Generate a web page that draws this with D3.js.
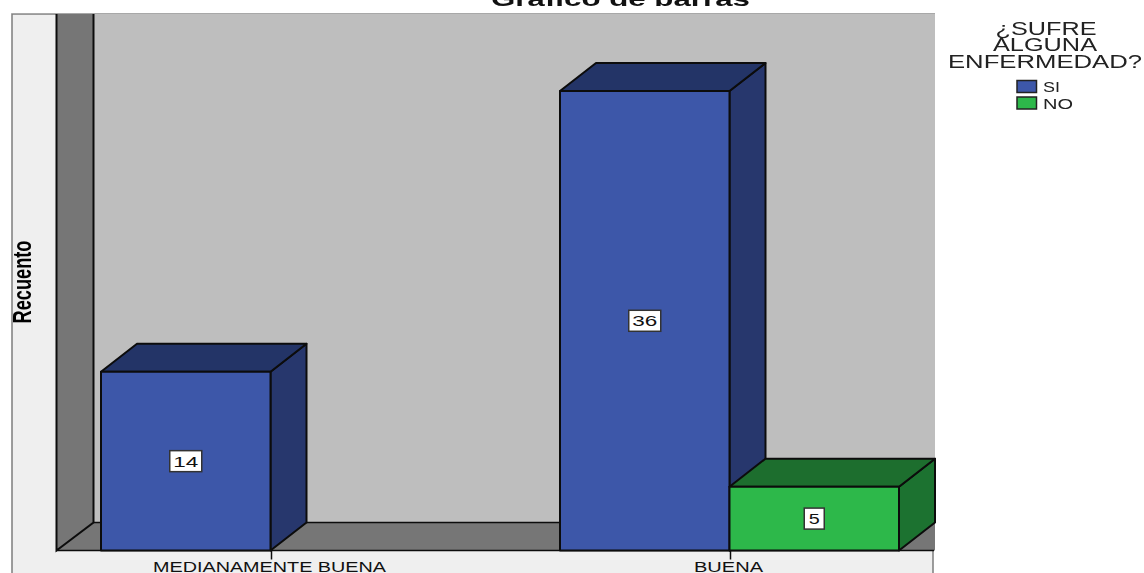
<!DOCTYPE html>
<html><head><meta charset="utf-8">
<script src="https://cdn.jsdelivr.net/npm/d3@7"></script>
<style>html,body{margin:0;padding:0;background:#fff}svg{display:block;filter:blur(.55px)}text{font-family:"Liberation Sans",Arial,sans-serif}</style>
</head><body><svg id="c" width="1144" height="573"></svg>
<script>
const categories=["MEDIANAMENTE BUENA","BUENA"];
const seriesNames=["SI","NO"];
const valuesSI=[14,36];
const valuesNO=[null,5];
const yLabel="Recuento";
const chartTitle="Gráfico de barras";
const legendTitle=["¿SUFRE","ALGUNA","ENFERMEDAD?"];
const faceColors={SI:"#3d57a9",NO:"#2db84a"};
const topColors={SI:"#233467",NO:"#1d6e2e"};
const sideColors={SI:"#27376d",NO:"#1c7230"};

const svg=d3.select("#c");
const baseY=550.5, dx=36, dy=-28;
const y=d3.scaleLinear().domain([0,40]).range([baseY,40]);
const x0=d3.scalePoint().domain(categories).range([271,730]);
const x1=d3.scaleBand().domain(seriesNames).range([-170,169]);
const ink="#0c0c0c";
svg.append("clipPath").attr("id","plot").append("rect").attr("x",0).attr("y",0).attr("width",936).attr("height",573);
const barLayer=svg.append("g");
const poly=(pts,fill,sw=2)=>barLayer.append("polygon").attr("points",pts.map(p=>p.join(",")).join(" ")).attr("fill",fill).attr("stroke",ink).attr("stroke-width",sw).attr("stroke-linejoin","round");

// panel
const bg=svg.insert("g","g");
bg.append("rect").attr("x",12).attr("y",14).attr("width",921).attr("height",570).attr("fill","#efefef").attr("stroke","#7d7d7d").attr("stroke-width",1.5);
bg.append("rect").attr("x",93).attr("y",13).attr("width",842).attr("height",510).attr("fill","#bebebe");
bg.append("line").attr("x1",12).attr("x2",935).attr("y1",13.5).attr("y2",13.5).attr("stroke","#a8a8a8").attr("stroke-width",1);
bg.append("polygon").attr("points",`56.5,14 93,14 93,${baseY+dy} 56.5,${baseY}`).attr("fill","#767676");
bg.append("polygon").attr("points",`93,${baseY+dy} 935,${baseY+dy} 935,${baseY} 56.5,${baseY}`).attr("fill","#767676");
bg.append("path").attr("d",`M56.5,14V${baseY}L93.5,${baseY+dy}V14`).attr("fill","none").attr("stroke",ink).attr("stroke-width",2);
bg.append("path").attr("d",`M93.5,${baseY+dy}H935`).attr("fill","none").attr("stroke",ink).attr("stroke-width",1.5);
bg.append("line").attr("x1",56).attr("x2",934).attr("y1",baseY).attr("y2",baseY).attr("stroke",ink).attr("stroke-width",1.5);

// bars, back to front
barLayer.attr("clip-path","url(#plot)");
const rows=[];
categories.forEach((c,i)=>{rows.push({c,s:"SI",v:valuesSI[i]});rows.push({c,s:"NO",v:valuesNO[i]});});
const bars=rows.filter(d=>d.v!==null);
bars.forEach(d=>{
  const l=x0(d.c)+x1(d.s), r=l+x1.bandwidth(), t=y(d.v);
  poly([[r,t],[r+dx,t+dy],[r+dx,baseY+dy],[r,baseY]],sideColors[d.s]);
  poly([[l,t],[l+dx,t+dy],[r+dx,t+dy],[r,t]],topColors[d.s]);
  poly([[l,t],[r,t],[r,baseY],[l,baseY]],faceColors[d.s]);
});
// value labels
bars.forEach(d=>{
  const cx=x0(d.c)+x1(d.s)+x1.bandwidth()/2, cy=(y(d.v)+baseY)/2;
  const w=String(d.v).length>1?32:20;
  svg.append("rect").attr("x",cx-w/2).attr("y",cy-10.5).attr("width",w).attr("height",21).attr("fill","#fff").attr("stroke","#333").attr("stroke-width",1.5);
  svg.append("text").attr("x",cx).attr("y",cy+5.5).attr("text-anchor","middle").attr("font-size",15).attr("textLength",String(d.v).length>1?25:11).attr("lengthAdjust","spacingAndGlyphs").attr("fill","#111").text(d.v);
});
// x axis
const ax=svg.append("g").attr("transform",`translate(0,${baseY})`).call(d3.axisBottom(x0).tickSize(9).tickPadding(3));
ax.select(".domain").remove();
ax.selectAll("line").attr("stroke",ink).attr("stroke-width",1.5);
const labelW={"MEDIANAMENTE BUENA":233,"BUENA":69};
ax.selectAll("text").attr("font-size",14.5).attr("fill","#111").attr("dy",0).attr("y",21.5)
  .attr("font-family","Liberation Sans").attr("textLength",d=>labelW[d]).attr("lengthAdjust","spacingAndGlyphs").attr("dx",-2);
// y title
svg.append("text").attr("transform","translate(31,282) rotate(-90)").attr("text-anchor","middle").attr("font-size",25).attr("font-weight","bold").attr("textLength",83).attr("lengthAdjust","spacingAndGlyphs").attr("fill","#000").text(yLabel);
// title
svg.append("text").attr("x",620.5).attr("y",6).attr("text-anchor","middle").attr("font-size",21).attr("font-weight","bold").attr("textLength",259).attr("lengthAdjust","spacingAndGlyphs").attr("fill","#111").text(chartTitle);
// legend
const legW=[101,104,194], legY=[35,51,68], legX=[1046,1045,1045];
legendTitle.forEach((t,i)=>svg.append("text").attr("x",legX[i]).attr("y",legY[i]).attr("text-anchor","middle").attr("font-size",17.5).attr("textLength",legW[i]).attr("lengthAdjust","spacingAndGlyphs").attr("fill","#222").text(t));
const leg=d3.scalePoint().domain(seriesNames).range([80,96.5]);
seriesNames.forEach(s=>{
  svg.append("rect").attr("x",1017).attr("y",leg(s)+.5).attr("width",19.5).attr("height",12).attr("fill",faceColors[s]).attr("stroke","#222").attr("stroke-width",1.5);
  svg.append("text").attr("x",1043).attr("y",leg(s)+12).attr("font-size",14).attr("textLength",s==="SI"?17:30).attr("lengthAdjust","spacingAndGlyphs").attr("fill","#222").text(s);
});
</script></body></html>
